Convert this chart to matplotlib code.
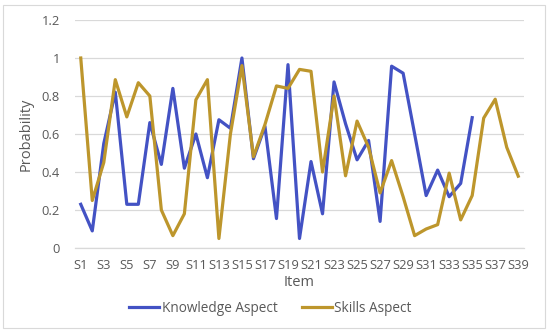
import matplotlib.pyplot as plt
from matplotlib.patches import Rectangle

# items S1..S39
items = [f'S{i}' for i in range(1, 40)]

knowledge = [0.23, 0.09, 0.55, 0.82, 0.23, 0.23, 0.66, 0.44, 0.84, 0.42,
             0.60, 0.37, 0.675, 0.63, 1.00, 0.47, 0.64, 0.155, 0.965, 0.05,
             0.455, 0.18, 0.874, 0.654, 0.464, 0.566, 0.14, 0.957, 0.92, 0.60,
             0.276, 0.41, 0.27, 0.34, 0.686]

skills = [1.00, 0.25, 0.45, 0.886, 0.69, 0.87, 0.80, 0.20, 0.065, 0.18,
          0.78, 0.886, 0.05, 0.60, 0.96, 0.48, 0.65, 0.853, 0.84, 0.94,
          0.93, 0.40, 0.80, 0.38, 0.668, 0.53, 0.29, 0.46, 0.27, 0.065,
          0.10, 0.123, 0.394, 0.148, 0.276, 0.684, 0.783, 0.53, 0.378]

yticks = [0, 0.2, 0.4, 0.6, 0.8, 1, 1.2]
ytick_labels = ['0', '0.2', '0.4', '0.6', '0.8', '1', '1.2']

plt.rcParams['font.family'] = ['Open Sans', 'DejaVu Sans']
text_col = '#595959'
grid_col = '#d9d9d9'

fig = plt.figure(figsize=(5.5, 3.33), dpi=100)
# chart area border like the spreadsheet export
fig.patches.append(Rectangle((3 / 550, 5 / 333), 542 / 550, 323 / 333,
                             transform=fig.transFigure, fill=False,
                             edgecolor='#d9d9d9', linewidth=0.8))

ax = fig.add_axes([75 / 550, 1 - 248 / 333, 449 / 550, 228 / 333])

ax.plot(range(len(knowledge)), knowledge, color='#4352c4', linewidth=2.3,
        label='Knowledge Aspect', solid_joinstyle='round')
ax.plot(range(len(skills)), skills, color='#bd962c', linewidth=2.3,
        label='Skills Aspect', solid_joinstyle='round')

ax.set_xlim(-0.5, len(items) - 0.5)
ax.set_ylim(0, 1.2)
ax.set_yticks(yticks)
ax.set_yticklabels(ytick_labels)
ax.set_xticks(range(0, len(items), 2))
ax.set_xticklabels(items[::2])
ax.tick_params(axis='both', length=0, labelsize=9.3, colors=text_col)
ax.tick_params(axis='y', pad=11)
ax.tick_params(axis='x', pad=8)

ax.grid(axis='y', color=grid_col, linewidth=0.9)
ax.set_axisbelow(True)
for side in ['top', 'right', 'left']:
    ax.spines[side].set_visible(False)
ax.spines['bottom'].set_color(grid_col)
ax.spines['bottom'].set_linewidth(0.9)

ax.set_xlabel('Item', fontsize=10.5, color=text_col, labelpad=2)
ax.set_ylabel('Probability', fontsize=10.5, color=text_col, labelpad=6)

ax.legend(loc='center', bbox_to_anchor=(0.435, -0.265), ncol=2, frameon=False,
          fontsize=9.8, labelcolor=text_col, handlelength=2.2,
          handletextpad=0.2, columnspacing=1.8)

fig.savefig('out.png', dpi=100)
